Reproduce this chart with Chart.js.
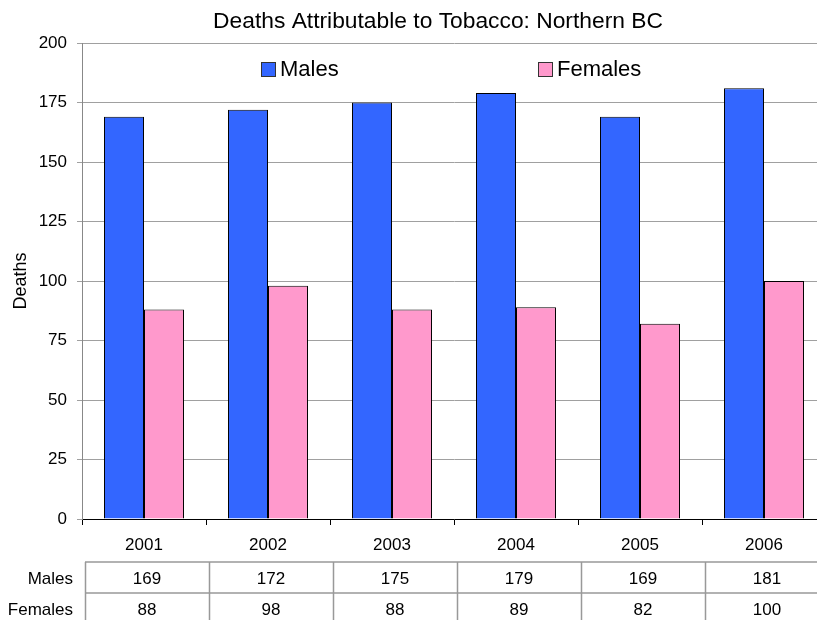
<!DOCTYPE html>
<html>
<head>
<meta charset="utf-8">
<script src="https://cdn.jsdelivr.net/npm/chart.js@4/dist/chart.umd.min.js"></script>
<style>
  html, body { margin: 0; padding: 0; background: #fff; overflow: hidden; }
  #wrap { width: 817px; height: 620px; overflow: hidden; }
</style>
</head>
<body>
<div id="wrap"><canvas id="deathsChart" width="876" height="620"></canvas></div>
<script>
// valores
const years = ["2001", "2002", "2003", "2004", "2005", "2006"];
const malesDeaths = [169, 172, 175, 179, 169, 181];
const femalesDeaths = [88, 98, 88, 89, 82, 100];
const yTicks = [0, 25, 50, 75, 100, 125, 150, 175, 200];
const chartTitle = "Deaths Attributable to Tobacco: Northern BC";

const FONT = "'Liberation Sans', Arial, sans-serif";

// título centrado na largura total (o gráfico original passa da borda direita)
const wideTitle = {
  id: "wideTitle",
  afterDraw(chart) {
    const ctx = chart.ctx;
    ctx.save();
    ctx.font = "22.8px " + FONT;
    ctx.fillStyle = "#000";
    ctx.textAlign = "center";
    ctx.textBaseline = "middle";
    ctx.fillText(chartTitle, chart.width / 2, 22);
    ctx.restore();
  },
};

// legenda desenhada dentro da área do gráfico
const innerLegend = {
  id: "innerLegend",
  afterDraw(chart) {
    const ctx = chart.ctx;
    const area = chart.chartArea;
    const offsets = [179, 456];
    ctx.save();
    ctx.font = "22px " + FONT;
    ctx.textBaseline = "middle";
    ctx.textAlign = "left";
    chart.data.datasets.forEach((ds, i) => {
      const x = area.left + offsets[i];
      const y = area.top + 26;
      ctx.fillStyle = ds.backgroundColor;
      ctx.fillRect(x, y - 7, 15, 15);
      ctx.strokeStyle = "#333";
      ctx.lineWidth = 1;
      ctx.strokeRect(x + 0.5, y - 6.5, 14, 14);
      ctx.fillStyle = "#000";
      ctx.fillText(ds.label, x + 19, y + 1);
    });
    ctx.restore();
  },
};

// tabela de dados embaixo do eixo x
const dataTable = {
  id: "dataTable",
  afterDraw(chart) {
    const ctx = chart.ctx;
    const xScale = chart.scales.x;
    const area = chart.chartArea;
    const colW = xScale.width / years.length;
    const shift = 3;
    const top = area.bottom + 43;
    const mid = area.bottom + 74;
    const bottom = chart.height;
    ctx.save();
    ctx.strokeStyle = "#999";
    ctx.lineWidth = 1.5;
    ctx.beginPath();
    ctx.moveTo(xScale.left + shift, top);
    ctx.lineTo(xScale.right + shift, top);
    ctx.moveTo(xScale.left + shift, mid);
    ctx.lineTo(xScale.right + shift, mid);
    for (let i = 0; i <= years.length; i++) {
      const x = Math.round(xScale.left + i * colW + shift) + 0.5;
      ctx.moveTo(x, top);
      ctx.lineTo(x, bottom);
    }
    ctx.stroke();

    ctx.fillStyle = "#000";
    ctx.font = "17px " + FONT;
    ctx.textBaseline = "middle";
    const rows = chart.data.datasets;
    const rowY = [top + 17, mid + 17];
    rows.forEach((ds, r) => {
      ctx.textAlign = "right";
      ctx.fillText(ds.label, xScale.left - 9, rowY[r]);
      ctx.textAlign = "center";
      ds.data.forEach((v, i) => {
        ctx.fillText(String(v), xScale.getPixelForValue(i) + shift, rowY[r]);
      });
    });
    ctx.restore();
  },
};

const ctx = document.getElementById("deathsChart").getContext("2d");
new Chart(ctx, {
  type: "bar",
  data: {
    labels: years,
    datasets: [
      {
        label: "Males",
        data: malesDeaths,
        backgroundColor: "#3366FF",
        borderColor: "#000",
        borderWidth: 1,
        categoryPercentage: 0.645,
        barPercentage: 1.0,
      },
      {
        label: "Females",
        data: femalesDeaths,
        backgroundColor: "#FF99CC",
        borderColor: "#000",
        borderWidth: 1,
        categoryPercentage: 0.645,
        barPercentage: 1.0,
      },
    ],
  },
  options: {
    responsive: false,
    animation: false,
    layout: { padding: { left: 0, right: 50, top: 43, bottom: 0 } },
    plugins: {
      legend: { display: false },
      tooltip: { enabled: false },
      title: { display: false },
    },
    scales: {
      x: {
        offset: true,
        grid: {
          offset: true,
          drawOnChartArea: false,
          drawTicks: true,
          tickLength: 6,
          color: "#000",
        },
        border: { color: "#000", width: 1 },
        ticks: {
          color: "#000",
          font: { family: FONT, size: 17 },
          padding: 10,
          maxRotation: 0,
        },
        afterFit(scale) {
          scale.height = 101;
        },
      },
      y: {
        min: 0,
        max: 200,
        afterBuildTicks(scale) {
          scale.ticks = yTicks.map((v) => ({ value: v }));
        },
        grid: {
          color: "#a0a0a0",
          tickLength: 5,
        },
        border: { color: "#888", width: 1 },
        ticks: {
          color: "#000",
          font: { family: FONT, size: 17 },
          padding: 10,
        },
        title: {
          display: true,
          text: "Deaths",
          color: "#000",
          font: { family: FONT, size: 18 },
          padding: { top: 10, bottom: 0 },
        },
        afterFit(scale) {
          scale.width = 82;
        },
      },
    },
  },
  plugins: [wideTitle, innerLegend, dataTable],
});
</script>
</body>
</html>
